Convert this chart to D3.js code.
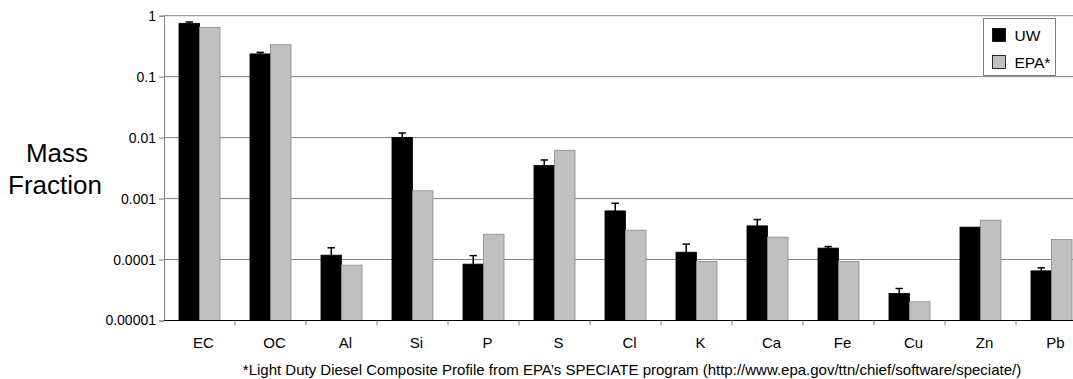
<!DOCTYPE html>
<html>
<head>
<meta charset="utf-8">
<script src="https://cdn.jsdelivr.net/npm/d3@7"></script>
<style>
  body { margin: 0; background: #fff; }
  svg { display: block; font-family: "Liberation Sans", Arial, sans-serif; }
</style>
</head>
<body>
<svg id="chart" width="1073" height="379"></svg>
<script>
const categories = ["EC", "OC", "Al", "Si", "P", "S", "Cl", "K", "Ca", "Fe", "Cu", "Zn", "Pb"];
const series = ["UW", "EPA*"];
// UW measured mass fractions and upper error (+) amounts
const uwValues = [0.75, 0.236, 0.000118, 0.0101, 0.0000841, 0.00348, 0.000628, 0.000132, 0.000357, 0.000154, 0.0000277, 0.00034, 0.0000653];
const uwErrors = [0.04, 0.014, 0.000038, 0.0018, 0.000032, 0.00082, 0.00021, 0.000047, 0.000096, 0.000009, 0.0000058, 0, 0.0000078];
// EPA SPECIATE profile
const epaValues = [0.645, 0.335, 0.0000809, 0.00134, 0.00026, 0.0062, 0.000303, 0.0000927, 0.000233, 0.0000927, 0.0000203, 0.000443, 0.000213];
const yTicks = [1, 0.1, 0.01, 0.001, 0.0001, 0.00001];
const yTickLabels = ["1", "0.1", "0.01", "0.001", "0.0001", "0.00001"];

const svg = d3.select("#chart");
const plotLeft = 164, plotTop = 15.7, plotBottom = 320.5, step = 71;

const x0 = d3.scaleBand()
  .domain(categories)
  .range([plotLeft, plotLeft + step * categories.length]);

const x1 = d3.scaleBand()
  .domain(series)
  .range([0, x0.bandwidth()])
  .paddingOuter(0.73);

const y = d3.scaleLog()
  .domain([1e-5, 1])
  .range([plotBottom, plotTop]);

// gridlines
svg.append("g")
  .selectAll("line")
  .data(yTicks.slice(0, -1))
  .join("line")
  .attr("x1", plotLeft).attr("x2", 1073)
  .attr("y1", d => y(d)).attr("y2", d => y(d))
  .attr("stroke", "#808080")
  .attr("stroke-width", 1);

// left axis
const yAxis = svg.append("g")
  .attr("transform", `translate(${plotLeft},0)`)
  .call(d3.axisLeft(y).tickValues(yTicks).tickSize(5).tickPadding(3)
    .tickFormat((d, i) => yTickLabels[i]));
yAxis.select(".domain").attr("stroke", "#808080");
yAxis.selectAll(".tick line").attr("stroke", "#808080");
yAxis.selectAll("text")
  .attr("font-size", 14)
  .attr("font-family", "Liberation Sans, Arial, sans-serif")
  .attr("fill", "#000");

// bars
const rows = categories.map((c, i) => ({ cat: c, uw: uwValues[i], err: uwErrors[i], epa: epaValues[i] }));

const groups = svg.append("g")
  .selectAll("g")
  .data(rows)
  .join("g")
  .attr("transform", d => `translate(${x0(d.cat)},0)`);

groups.append("rect")
  .attr("x", x1("UW"))
  .attr("width", x1.bandwidth())
  .attr("y", d => y(d.uw))
  .attr("height", d => plotBottom - y(d.uw))
  .attr("fill", "#000")
  .attr("stroke", "#000")
  .attr("stroke-width", 0.8);

groups.append("rect")
  .attr("x", x1("EPA*"))
  .attr("width", x1.bandwidth())
  .attr("y", d => y(d.epa))
  .attr("height", d => plotBottom - y(d.epa))
  .attr("fill", "#c0c0c0")
  .attr("stroke", "#8a8a8a")
  .attr("stroke-width", 0.8);

// error bars (upper only)
const eb = groups.filter(d => d.err > 0).append("g")
  .attr("stroke", "#000")
  .attr("stroke-width", 1.5);
const cx = x1("UW") + x1.bandwidth() / 2;
eb.append("line")
  .attr("x1", cx).attr("x2", cx)
  .attr("y1", d => y(d.uw)).attr("y2", d => y(d.uw + d.err));
eb.append("line")
  .attr("x1", cx - 3.7).attr("x2", cx + 3.7)
  .attr("y1", d => y(d.uw + d.err)).attr("y2", d => y(d.uw + d.err));

// bottom axis
const xAxis = svg.append("g")
  .attr("transform", `translate(0,${plotBottom})`);
xAxis.append("line")
  .attr("x1", plotLeft).attr("x2", 1073)
  .attr("stroke", "#000").attr("stroke-width", 1);
xAxis.selectAll("line.tk")
  .data(categories.slice(1))
  .join("line")
  .attr("class", "tk")
  .attr("x1", d => x0(d)).attr("x2", d => x0(d))
  .attr("y1", 0).attr("y2", 5)
  .attr("stroke", "#808080");
xAxis.selectAll("text")
  .data(categories)
  .join("text")
  .attr("x", d => x0(d) + x0.bandwidth() / 2 + 4)
  .attr("y", 27.5)
  .attr("text-anchor", "middle")
  .attr("font-size", 15)
  .text(d => d);

// y title
const title = svg.append("text")
  .attr("text-anchor", "middle")
  .attr("font-size", 26);
title.append("tspan").attr("x", 57).attr("y", 162).text("Mass");
title.append("tspan").attr("x", 55).attr("y", 194).text("Fraction");

// footnote
svg.append("text")
  .attr("x", 632)
  .attr("y", 375)
  .attr("text-anchor", "middle")
  .attr("font-size", 15)
  .text("*Light Duty Diesel Composite Profile from EPA’s SPECIATE program (http://www.epa.gov/ttn/chief/software/speciate/)");

// legend
const legend = svg.append("g").attr("transform", "translate(983.5,18.5)");
legend.append("rect")
  .attr("width", 72).attr("height", 57)
  .attr("fill", "#fff").attr("stroke", "#808080");
const li = legend.selectAll("g")
  .data(series)
  .join("g")
  .attr("transform", (d, i) => `translate(9,${10 + i * 27})`);
li.append("rect")
  .attr("width", 13).attr("height", 13)
  .attr("fill", (d, i) => i ? "#c0c0c0" : "#000")
  .attr("stroke", "#000").attr("stroke-width", 0.8);
li.append("text")
  .attr("x", 22).attr("y", 12.5)
  .attr("font-size", 15.5)
  .text(d => d);
</script>
</body>
</html>
